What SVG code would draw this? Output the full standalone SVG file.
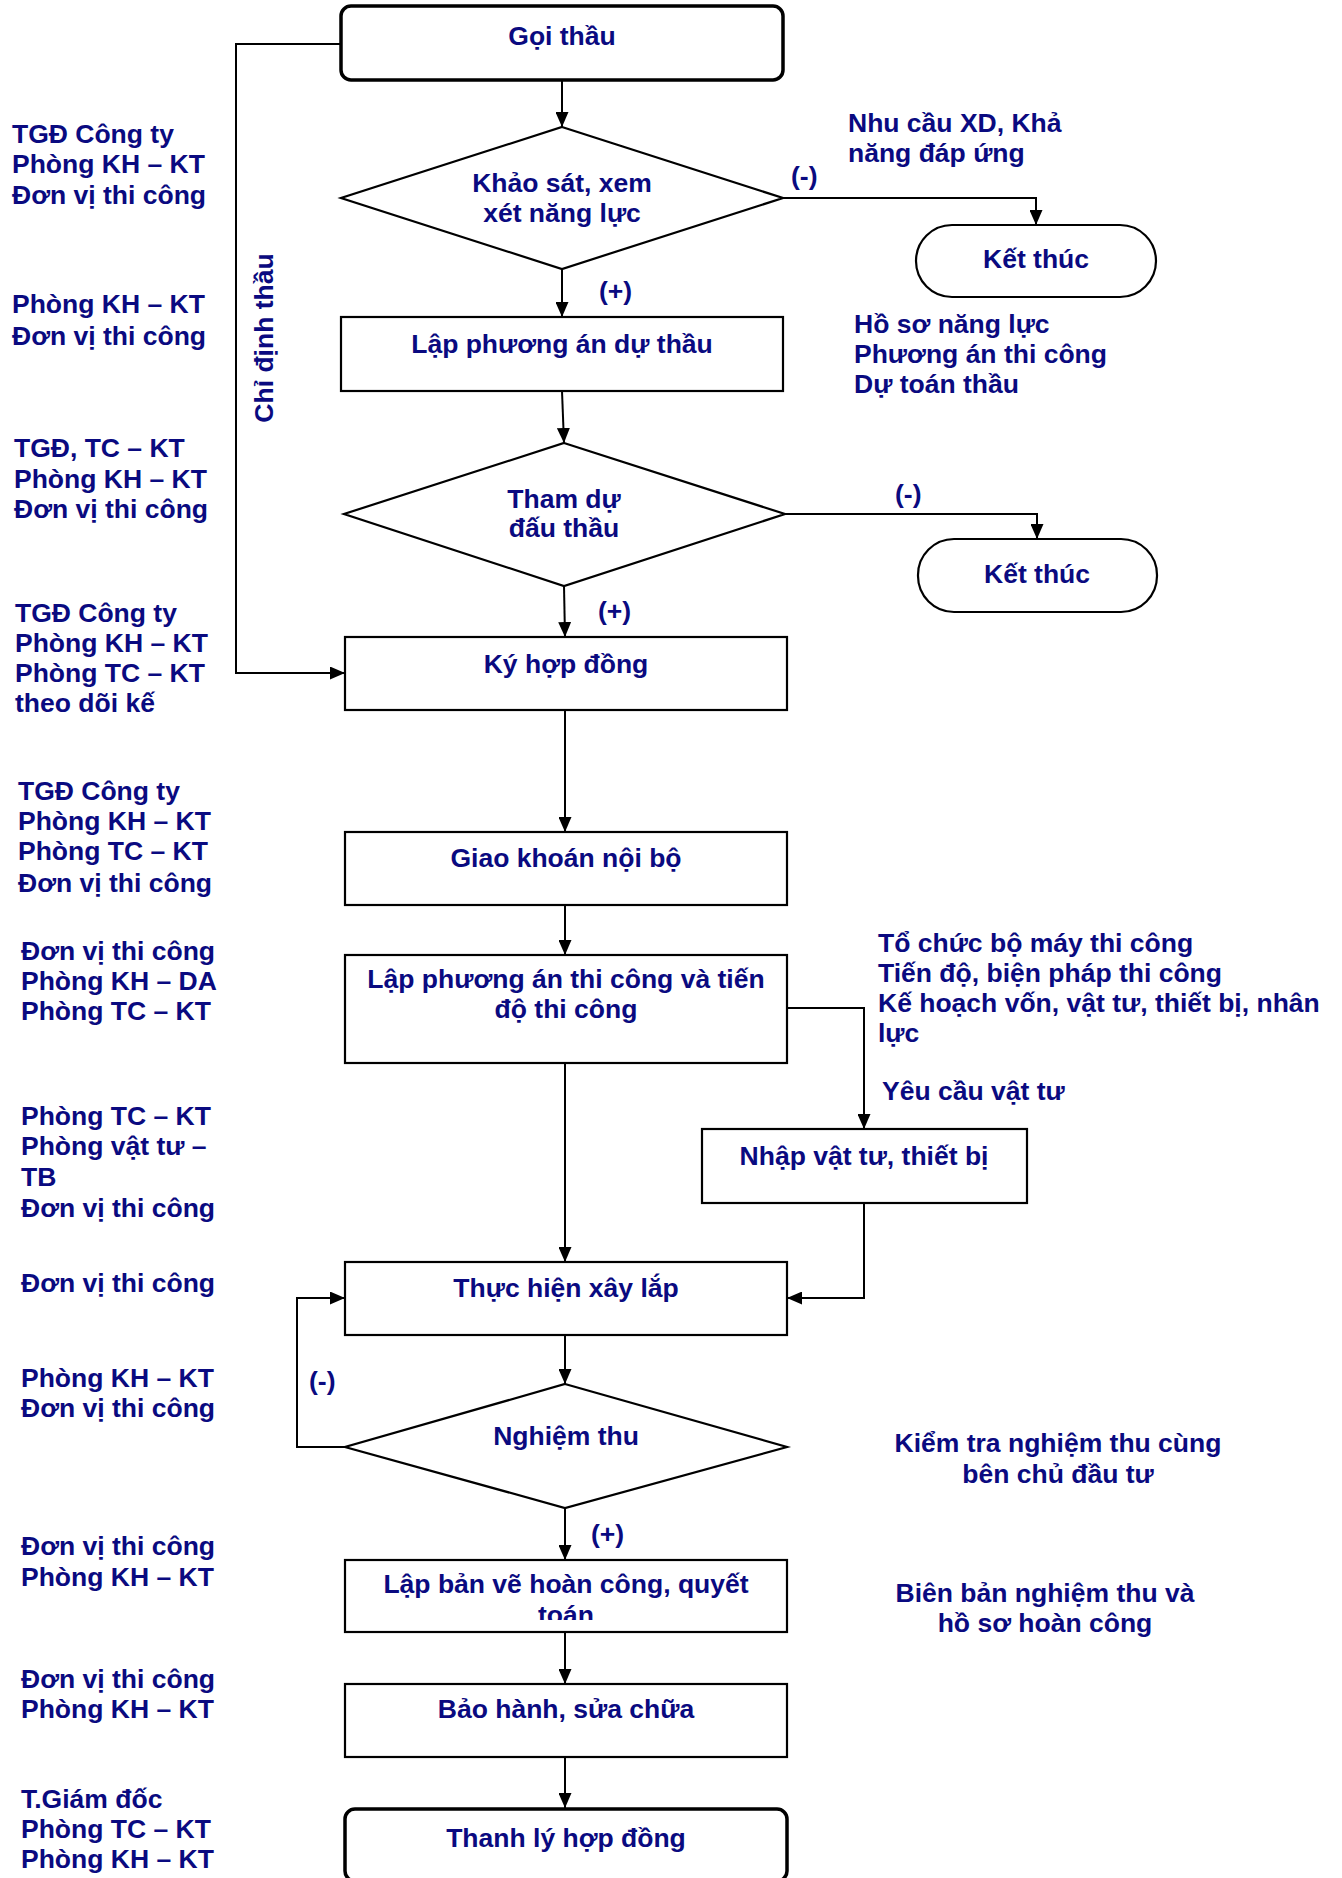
<svg xmlns="http://www.w3.org/2000/svg" width="1342" height="1878" viewBox="0 0 1342 1878">
<style>
text{font-family:"Liberation Sans",Arial,sans-serif;font-weight:bold;font-size:26.5px;fill:#0a0a80}
.c{text-anchor:middle}
.box{fill:#fff;stroke:#000;stroke-width:2.2}
.term{fill:#fff;stroke:#000;stroke-width:3.5}
.con{fill:none;stroke:#000;stroke-width:2;marker-end:url(#ah)}
</style>
<defs>
<marker id="ah" viewBox="0 0 15 13" refX="15" refY="6.5" markerWidth="15" markerHeight="13" markerUnits="userSpaceOnUse" orient="auto">
<path d="M0,0 L15,6.5 L0,13 z" fill="#000"/>
</marker>
<clipPath id="clipLap"><rect x="345" y="1560" width="442" height="60"/></clipPath>
</defs>

<g id="connectors">
<path class="con" d="M562,80 L562,127"/>
<path class="con" d="M783,198 L1036,198 L1036,225"/>
<path class="con" d="M562,269 L562,317"/>
<path class="con" d="M562,391 L564,443"/>
<path class="con" d="M785,514 L1037,514 L1037,539"/>
<path class="con" d="M564,586 L565,637"/>
<path class="con" d="M341,44 L236,44 L236,673 L345,673"/>
<path class="con" d="M565,710 L565,832"/>
<path class="con" d="M565,905 L565,955"/>
<path class="con" d="M787,1008 L864,1008 L864,1129"/>
<path class="con" d="M565,1063 L565,1262"/>
<path class="con" d="M864,1203 L864,1298 L787,1298"/>
<path class="con" d="M565,1335 L565,1384"/>
<path class="con" d="M345,1447 L297,1447 L297,1298 L345,1298"/>
<path class="con" d="M565,1508 L565,1560"/>
<path class="con" d="M565,1632 L565,1684"/>
<path class="con" d="M565,1757 L565,1808"/>
<text x="791" y="185">(-)</text>
<text x="895" y="503">(-)</text>
<text x="599" y="300">(+)</text>
<text x="598" y="620">(+)</text>
<text x="309" y="1390">(-)</text>
<text x="591" y="1543">(+)</text>
<text transform="translate(273,338) rotate(-90)" class="c">Chỉ định thầu</text>
<text x="882" y="1100">Yêu cầu vật tư</text>
</g>

<g id="goi-thau">
<rect class="term" x="341" y="6" width="442" height="74" rx="10"/>
<text class="c" x="562" y="45">Gọi thầu</text>
</g>
<g id="khao-sat">
<polygon class="box" points="562,127 783,198 562,269 341,198"/>
<text class="c" x="562" y="192">Khảo sát, xem</text>
<text class="c" x="562" y="222">xét năng lực</text>
</g>
<g id="ket-thuc-1">
<rect class="box" x="916" y="225" width="240" height="72" rx="36"/>
<text class="c" x="1036" y="268">Kết thúc</text>
</g>
<g id="lap-du-thau">
<rect class="box" x="341" y="317" width="442" height="74"/>
<text class="c" x="562" y="353">Lập phương án dự thầu</text>
</g>
<g id="tham-du">
<polygon class="box" points="564,443 785,514 564,586 344,514"/>
<text class="c" x="564" y="508">Tham dự</text>
<text class="c" x="564" y="537">đấu thầu</text>
</g>
<g id="ket-thuc-2">
<rect class="box" x="918" y="539" width="239" height="73" rx="36"/>
<text class="c" x="1037" y="583">Kết thúc</text>
</g>
<g id="ky-hop-dong">
<rect class="box" x="345" y="637" width="442" height="73"/>
<text class="c" x="566" y="673">Ký hợp đồng</text>
</g>
<g id="giao-khoan">
<rect class="box" x="345" y="832" width="442" height="73"/>
<text class="c" x="566" y="867">Giao khoán nội bộ</text>
</g>
<g id="lap-thi-cong">
<rect class="box" x="345" y="955" width="442" height="108"/>
<text class="c" x="566" y="988">Lập phương án thi công và tiến</text>
<text class="c" x="566" y="1018">độ thi công</text>
</g>
<g id="nhap-vat-tu">
<rect class="box" x="702" y="1129" width="325" height="74"/>
<text class="c" x="864" y="1165">Nhập vật tư, thiết bị</text>
</g>
<g id="thuc-hien">
<rect class="box" x="345" y="1262" width="442" height="73"/>
<text class="c" x="566" y="1297">Thực hiện xây lắp</text>
</g>
<g id="nghiem-thu">
<polygon class="box" points="565,1384 787,1447 565,1508 345,1447"/>
<text class="c" x="566" y="1445">Nghiệm thu</text>
</g>
<g id="lap-ban-ve">
<rect class="box" x="345" y="1560" width="442" height="72"/>
<g clip-path="url(#clipLap)">
<text class="c" x="566" y="1593">Lập bản vẽ hoàn công, quyết</text>
<text class="c" x="566" y="1624">toán</text>
</g>
</g>
<g id="bao-hanh">
<rect class="box" x="345" y="1684" width="442" height="73"/>
<text class="c" x="566" y="1718">Bảo hành, sửa chữa</text>
</g>
<g id="thanh-ly">
<rect class="term" x="345" y="1809" width="442" height="72" rx="10"/>
<text class="c" x="566" y="1847">Thanh lý hợp đồng</text>
</g>

<g id="notes-right">
<text x="848" y="132">Nhu cầu XD, Khả</text>
<text x="848" y="162">năng đáp ứng</text>
<text x="854" y="333">Hồ sơ năng lực</text>
<text x="854" y="363">Phương án thi công</text>
<text x="854" y="393">Dự toán thầu</text>
<text x="878" y="952">Tổ chức bộ máy thi công</text>
<text x="878" y="982">Tiến độ, biện pháp thi công</text>
<text x="878" y="1012">Kế hoạch vốn, vật tư, thiết bị, nhân</text>
<text x="878" y="1042">lực</text>
<text class="c" x="1058" y="1452">Kiểm tra nghiệm thu cùng</text>
<text class="c" x="1058" y="1483">bên chủ đầu tư</text>
<text class="c" x="1045" y="1602">Biên bản nghiệm thu và</text>
<text class="c" x="1045" y="1632">hồ sơ hoàn công</text>
</g>

<g id="notes-left">
<text x="12" y="143">TGĐ Công ty</text>
<text x="12" y="173">Phòng KH – KT</text>
<text x="12" y="204">Đơn vị thi công</text>
<text x="12" y="313">Phòng KH – KT</text>
<text x="12" y="345">Đơn vị thi công</text>
<text x="14" y="457">TGĐ, TC – KT</text>
<text x="14" y="488">Phòng KH – KT</text>
<text x="14" y="518">Đơn vị thi công</text>
<text x="15" y="622">TGĐ Công ty</text>
<text x="15" y="652">Phòng KH – KT</text>
<text x="15" y="682">Phòng TC – KT</text>
<text x="15" y="712">theo dõi kế</text>
<text x="18" y="800">TGĐ Công ty</text>
<text x="18" y="830">Phòng KH – KT</text>
<text x="18" y="860">Phòng TC – KT</text>
<text x="18" y="892">Đơn vị thi công</text>
<text x="21" y="960">Đơn vị thi công</text>
<text x="21" y="990">Phòng KH – DA</text>
<text x="21" y="1020">Phòng TC – KT</text>
<text x="21" y="1125">Phòng TC – KT</text>
<text x="21" y="1155">Phòng vật tư –</text>
<text x="21" y="1186">TB</text>
<text x="21" y="1217">Đơn vị thi công</text>
<text x="21" y="1292">Đơn vị thi công</text>
<text x="21" y="1387">Phòng KH – KT</text>
<text x="21" y="1417">Đơn vị thi công</text>
<text x="21" y="1555">Đơn vị thi công</text>
<text x="21" y="1586">Phòng KH – KT</text>
<text x="21" y="1688">Đơn vị thi công</text>
<text x="21" y="1718">Phòng KH – KT</text>
<text x="21" y="1808">T.Giám đốc</text>
<text x="21" y="1838">Phòng TC – KT</text>
<text x="21" y="1868">Phòng KH – KT</text>
</g>
</svg>
